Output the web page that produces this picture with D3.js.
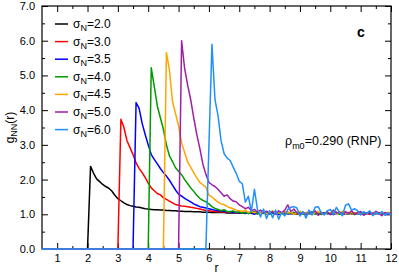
<!DOCTYPE html>
<html lang="en">
<head>
    <meta charset="UTF-8">
    <title>g_NN(r)</title>
    <style>
        body {
            margin: 0;
            background: #fff;
            font-family: "Liberation Sans", Arial, sans-serif;
            overflow: hidden;
        }
        .axis text {
            font-family: "Liberation Sans", Arial, sans-serif;
            font-size: 11px;
            fill: #000;
        }
        .axis line {
            stroke: #000;
            stroke-width: 1px;
        }
        .axis path {
            display: none;
        }
    </style>
</head>
<body>
    <div id="chart"></div>
    <script src="https://d3js.org/d3.v7.min.js"></script>
    <script>
    const rStep = 0.1;
    const sigmaLabels = ["2.0", "3.0", "3.5", "4.0", "4.5", "5.0", "6.0"];
    const colors = ["#000000", "#ff0000", "#0000ff", "#009a00", "#ffa500", "#a01ea8", "#1e90ff"];
    const onsets = [2.0, 3.0, 3.5, 4.0, 4.5, 5.0, 5.9];

    const g20 = [0, 2.38, 2.18, 2.02, 1.94, 1.86, 1.8, 1.75, 1.67, 1.55,
        1.45, 1.39, 1.33, 1.28, 1.25, 1.23, 1.21, 1.2, 1.18, 1.16,
        1.15, 1.14, 1.13, 1.13, 1.12, 1.12, 1.11, 1.11, 1.1, 1.1,
        1.09, 1.09, 1.08, 1.08, 1.08, 1.07, 1.07, 1.07, 1.06, 1.06,
        1.06, 1.05, 1.05, 1.05, 1.05, 1.05, 1.04, 1.04, 1.04, 1.04,
        1.04, 1.04, 1.04, 1.03, 1.03, 1.03, 1.03, 1.03, 1.03, 1.03,
        1.03, 1.03, 1.03, 1.03, 1.03, 1.02, 1.02, 1.02, 1.02, 1.02,
        1.02, 1.02, 1.02, 1.02, 1.02, 1.02, 1.02, 1.02, 1.02, 1.02,
        1.02, 1.02, 1.02, 1.02, 1.02, 1.02, 1.02, 1.02, 1.02, 1.02,
        1.02, 1.02, 1.02, 1.02, 1.02, 1.02, 1.02, 1.02, 1.02, 1.02,
        1.02];
    const g30 = [0, 3.74, 3.5, 3.12, 2.92, 2.72, 2.48, 2.32, 2.2, 2.06,
        1.9, 1.76, 1.68, 1.6, 1.56, 1.48, 1.43, 1.38, 1.33, 1.28,
        1.26, 1.24, 1.23, 1.22, 1.2, 1.19, 1.17, 1.15, 1.13, 1.11,
        1.1, 1.09, 1.08, 1.07, 1.08, 1.06, 1.05, 1.07, 1.05, 1.04,
        1.06, 1.03, 1.05, 1.02, 1.06, 1.04, 1.01, 1.05, 1.03, 1.06,
        1.02, 1.04, 1.0, 1.05, 1.03, 1.01, 1.06, 1.02, 1.04, 1.0,
        1.05, 1.03, 1.01, 1.04, 1.06, 1.02, 1.0, 1.04, 1.03, 1.05,
        1.01, 1.04, 1.02, 1.06, 1.0, 1.03, 1.05, 1.01, 1.04, 1.02,
        1.05, 1.01, 1.03, 1.0, 1.04, 1.02, 1.05, 1.01, 1.03, 0.99,
        1.03];
    const g35 = [0, 4.22, 4.05, 3.62, 3.3,
        3.0, 2.72, 2.58, 2.45, 2.32, 2.2, 2.1, 1.98, 1.84, 1.7,
        1.58, 1.52, 1.46, 1.41, 1.36, 1.3, 1.26, 1.22, 1.2, 1.18,
        1.16, 1.14, 1.12, 1.1, 1.11, 1.08, 1.07, 1.08, 1.05, 1.06,
        1.04, 1.06, 1.02, 1.05, 1.03, 1.0, 1.05, 1.02, 1.04, 1.01,
        1.05, 1.02, 1.04, 0.99, 1.03, 1.06, 1.01, 1.03, 1.0, 1.04,
        1.02, 1.05, 1.0, 1.03, 1.01, 1.06, 1.02, 1.0, 1.04, 1.02,
        1.03, 0.99, 1.05, 1.02, 1.04, 1.0, 1.03, 1.06, 1.01, 1.03,
        1.0, 1.04, 1.02, 1.05, 0.99, 1.03, 1.01, 1.04, 1.02, 1.0,
        1.02];
    const g40 = [0, 5.22, 4.68, 4.12, 3.78, 3.45, 3.0, 2.68, 2.52, 2.34,
        2.24, 2.14, 2.0, 1.88, 1.76, 1.66, 1.55, 1.46, 1.4, 1.36,
        1.3, 1.22, 1.17, 1.14, 1.1, 1.13, 1.08, 1.07, 1.1, 1.05,
        1.07, 1.03, 1.06, 1.02, 1.05, 1.08, 1.01, 1.04, 1.02, 1.06,
        1.0, 1.04, 1.07, 1.02, 1.03, 0.99, 1.05, 1.02, 1.06, 1.01,
        1.03, 1.0, 1.05, 1.02, 1.07, 1.01, 1.03, 0.99, 1.05, 1.02,
        1.04, 1.01, 1.06, 1.0, 1.03, 1.05, 1.01, 1.04, 0.99, 1.03,
        1.05, 1.01, 1.03, 1.06, 1.0, 1.04, 1.02, 1.05, 1.0, 1.03,
        1.01];
    const g45 = [0, 5.66, 5.15, 4.25, 3.9,
        3.55, 3.05, 2.78, 2.5, 2.35, 2.2, 2.05, 1.92, 1.85, 1.78,
        1.55, 1.5, 1.42, 1.35, 1.3, 1.28, 1.22, 1.19, 1.16, 1.12,
        1.1, 1.08, 1.12, 1.05, 1.09, 1.04, 1.1, 1.03, 1.07, 1.02,
        1.06, 1.1, 1.03, 1.05, 1.01, 1.08, 1.04, 1.06, 1.0, 1.05,
        1.09, 1.02, 1.04, 1.07, 1.01, 1.05, 1.08, 1.03, 1.0, 1.06,
        1.03, 1.07, 1.02, 1.05, 1.09, 1.01, 1.04, 1.06, 1.02, 1.05,
        1.01, 1.06, 1.03, 1.08, 1.02, 1.04, 1.0, 1.06, 1.03, 1.05,
        1.02];
    const g50 = [0, 6.0, 5.2, 4.72, 4.3, 3.78, 3.3, 2.9, 2.45, 2.15,
        1.92, 1.85, 1.8, 1.72, 1.62, 1.52, 1.56, 1.45, 1.38, 1.36,
        1.27, 1.22, 1.16, 1.2, 1.1, 1.14, 1.06, 1.12, 1.04, 1.09,
        1.02, 1.08, 1.0, 1.1, 1.05, 1.12, 1.27, 1.08, 1.15, 1.04,
        1.0, 1.06, 0.98, 1.08, 1.03, 1.1, 0.97, 1.05, 1.02, 1.07,
        0.99, 1.12, 1.04, 1.06, 0.98, 1.08, 1.02, 1.1, 1.0, 1.05,
        1.08, 0.97, 1.04, 1.06, 1.0, 1.09, 1.02, 0.96, 1.05, 1.01,
        1.04];
    const g60 = [0,
        2.95, 5.9, 4.3, 3.85, 3.12, 2.75, 2.62, 2.55, 2.36, 2.18,
        1.95, 1.88, 1.35, 1.52, 1.08, 1.72, 1.14, 0.92, 1.15, 0.88,
        1.1, 0.9, 1.12, 0.86, 1.06, 0.95, 1.14, 1.2, 1.22, 1.18,
        0.95, 1.08, 0.89, 1.12, 0.98, 1.2, 1.22, 1.05, 0.98, 1.1,
        1.14, 1.0, 1.2, 1.06, 0.96, 1.26, 1.3, 1.12, 1.16, 1.1,
        0.98, 1.08, 1.02, 1.1, 0.96, 1.06, 1.0, 1.08, 0.97, 1.04,
        0.98];
    const gValues = [g20, g30, g35, g40, g45, g50, g60];

    const xTicks = [1, 2, 3, 4, 5, 6, 7, 8, 9, 10, 11, 12];
    const xMinor = [1.5, 2.5, 3.5, 4.5, 5.5, 6.5, 7.5, 8.5, 9.5, 10.5, 11.5];
    const yTicks = [0, 1, 2, 3, 4, 5, 6, 7];
    const yMinor = [0.5, 1.5, 2.5, 3.5, 4.5, 5.5, 6.5];

    const width = 399, height = 275;
    const margin = { top: 6, right: 8, bottom: 26, left: 42 };
    const plotW = width - margin.left - margin.right;
    const plotH = height - margin.top - margin.bottom;

    const svg = d3.select("#chart").append("svg")
        .attr("width", width)
        .attr("height", height);

    const x = d3.scaleLinear().domain([0.5, 12]).range([0, plotW]);
    const y = d3.scaleLinear().domain([0, 7]).range([plotH, 0]);

    const g = svg.append("g")
        .attr("transform", `translate(${margin.left},${margin.top})`);

    // series: zero until onset, then sampled values
    const series = gValues.map((vals, k) => {
        const pts = [{ r: 0.5, v: 0 }];
        vals.forEach((v, i) => pts.push({ r: onsets[k] + i * rStep, v: v }));
        return pts;
    });

    const line = d3.line()
        .x(d => x(d.r))
        .y(d => y(d.v));

    // axes, ticks pointing inward
    g.append("g").attr("class", "axis")
        .attr("transform", `translate(0,${plotH})`)
        .call(d3.axisBottom(x).tickValues(xTicks).tickSize(-6).tickPadding(5).tickFormat(d3.format("d")));
    g.append("g").attr("class", "axis")
        .attr("transform", `translate(0,${plotH})`)
        .call(d3.axisBottom(x).tickValues(xMinor).tickSize(-3).tickFormat(""));
    g.append("g").attr("class", "axis")
        .call(d3.axisTop(x).tickValues(xTicks).tickSize(-6).tickFormat(""));
    g.append("g").attr("class", "axis")
        .call(d3.axisTop(x).tickValues(xMinor).tickSize(-3).tickFormat(""));

    g.append("g").attr("class", "axis")
        .call(d3.axisLeft(y).tickValues(yTicks).tickSize(-6).tickPadding(7).tickFormat(d3.format(".1f")));
    g.append("g").attr("class", "axis")
        .call(d3.axisLeft(y).tickValues(yMinor).tickSize(-3).tickFormat(""));
    g.append("g").attr("class", "axis")
        .attr("transform", `translate(${plotW},0)`)
        .call(d3.axisRight(y).tickValues(yTicks).tickSize(-6).tickFormat(""));
    g.append("g").attr("class", "axis")
        .attr("transform", `translate(${plotW},0)`)
        .call(d3.axisRight(y).tickValues(yMinor).tickSize(-3).tickFormat(""));

    g.append("rect")
        .attr("width", plotW)
        .attr("height", plotH)
        .attr("fill", "none")
        .attr("stroke", "#000")
        .attr("stroke-width", 1.2);

    g.selectAll(".curve")
        .data(series)
        .join("path")
        .attr("class", "curve")
        .attr("d", line)
        .attr("fill", "none")
        .attr("stroke", (d, i) => colors[i])
        .attr("stroke-width", 1.5)
        .attr("stroke-linejoin", "round");

    // legend
    const legend = g.append("g").attr("transform", "translate(13,18)");
    sigmaLabels.forEach((lab, i) => {
        const row = legend.append("g").attr("transform", `translate(0,${i * 17.6})`);
        row.append("line")
            .attr("x1", 0).attr("x2", 13)
            .attr("stroke", colors[i])
            .attr("stroke-width", 1.5);
        const t = row.append("text")
            .attr("x", 18)
            .attr("y", 4)
            .attr("font-size", 12);
        t.append("tspan").text("σ");
        t.append("tspan").attr("dy", 3).attr("font-size", 9).text("N");
        t.append("tspan").attr("dy", -3).text("=" + lab);
    });

    // panel letter and density annotation
    g.append("text")
        .attr("x", 315)
        .attr("y", 31)
        .attr("font-size", 14)
        .attr("font-weight", "bold")
        .text("c");

    const rho = g.append("text")
        .attr("x", 243)
        .attr("y", 139)
        .attr("font-size", 12.5);
    rho.append("tspan").text("ρ");
    rho.append("tspan").attr("dy", 3.5).attr("font-size", 9).text("m0");
    rho.append("tspan").attr("dy", -3.5).text("=0.290 (RNP)");

    // axis titles
    svg.append("text")
        .attr("x", margin.left + plotW / 2)
        .attr("y", 272)
        .attr("text-anchor", "middle")
        .attr("font-size", 12)
        .text("r");

    const yl = svg.append("text")
        .attr("transform", `translate(14,${margin.top + plotH / 2}) rotate(-90)`)
        .attr("text-anchor", "middle")
        .attr("font-size", 12);
    yl.append("tspan").text("g");
    yl.append("tspan").attr("dy", 3).attr("font-size", 9).text("NN");
    yl.append("tspan").attr("dy", -3).text("(r)");
    </script>
</body>
</html>
